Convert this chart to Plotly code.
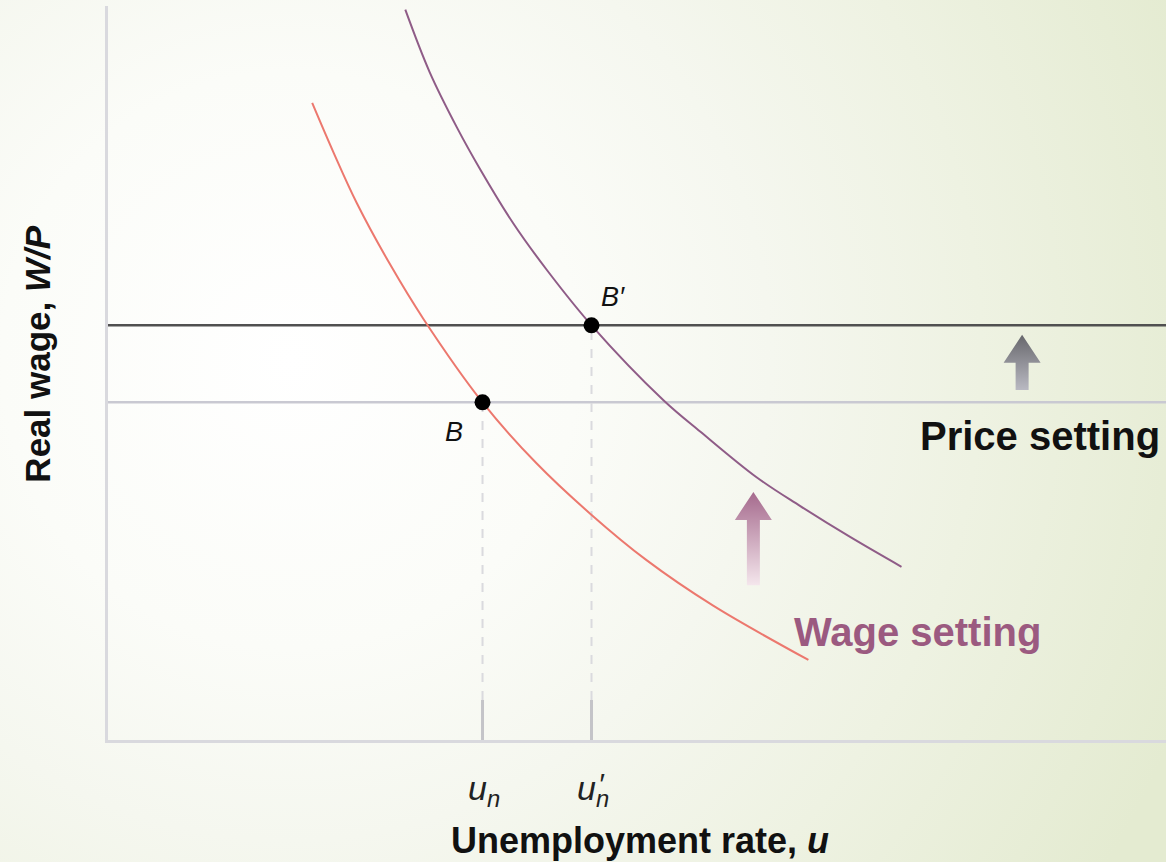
import base64
import plotly.graph_objects as go

# Wage-setting curve before the shift (unemployment rate, real wage)
ws_u = [1.93, 2.13, 2.35, 2.67, 2.98, 3.54, 4.05, 4.56, 5.09, 5.72, 6.62]
ws_w = [8.68, 8.01, 7.32, 6.47, 5.74, 4.60, 3.77, 3.08, 2.45, 1.83, 1.09]

# Wage-setting curve after the shift
ws2_u = [2.81, 3.04, 3.30, 3.52, 3.83, 4.15, 4.57, 5.25, 5.60, 6.13, 6.54, 7.01, 7.50]
ws2_w = [9.95, 9.10, 8.34, 7.77, 7.04, 6.40, 5.65, 4.63, 4.20, 3.58, 3.19, 2.77, 2.36]

# Price-setting real wage, old and new
ps_old = 4.60
ps_new = 5.65

# Equilibria
eq_names = ["B", "B′"]
eq_u = [3.54, 4.57]
eq_w = [4.60, 5.65]

X_RANGE = [0, 10]
Y_RANGE = [0, 10]
W, H = 1166, 862
ML, MR, MT, MB = 108, 0, 6, 122
PX_X = (W - ML - MR) / (X_RANGE[1] - X_RANGE[0])
PX_Y = (H - MT - MB) / (Y_RANGE[1] - Y_RANGE[0])

FONT = "Liberation Sans, Arial, Helvetica, sans-serif"
RED = "#ec786e"
PURPLE = "#8f5c87"
WAGE_TXT = "#9b5a80"

fig = go.Figure()

# Soft radial background
svg = (
    f"<svg xmlns='http://www.w3.org/2000/svg' width='{W}' height='{H}'>"
    "<defs><radialGradient id='g' cx='290' cy='360' r='960' gradientUnits='userSpaceOnUse'>"
    "<stop offset='0' stop-color='#ffffff'/>"
    "<stop offset='0.3' stop-color='#fbfcf8'/>"
    "<stop offset='0.5' stop-color='#f5f7ef'/>"
    "<stop offset='0.72' stop-color='#eef2e2'/>"
    "<stop offset='1' stop-color='#e4ebd1'/>"
    "</radialGradient></defs>"
    f"<rect width='{W}' height='{H}' fill='url(#g)'/></svg>"
)
bg_src = "data:image/svg+xml;base64," + base64.b64encode(svg.encode()).decode()
pw, ph = W - ML - MR, H - MT - MB
fig.add_layout_image(
    source=bg_src, xref="paper", yref="paper",
    x=-ML / pw, y=1 + MT / ph, sizex=W / pw, sizey=H / ph,
    xanchor="left", yanchor="top", sizing="stretch", layer="below",
)

# Price-setting lines
for level, col in [(ps_old, "#c9c9d2"), (ps_new, "#505050")]:
    fig.add_shape(type="line", xref="paper", x0=0, x1=1, y0=level, y1=level,
                  line=dict(color=col, width=2.5), layer="below")

# Dashed guides from equilibria to the axis, with solid ticks at the base
tick_h = 40 / PX_Y
for u, w in zip(eq_u, eq_w):
    fig.add_shape(type="line", x0=u, x1=u, y0=tick_h, y1=w,
                  line=dict(color="#dadade", width=2, dash="dash"), layer="below")
    fig.add_shape(type="line", x0=u, x1=u, y0=0, y1=tick_h,
                  line=dict(color="#c4c4c8", width=3), layer="below")

# Wage-setting curves
fig.add_trace(go.Scatter(x=ws_u, y=ws_w, mode="lines",
                         line=dict(color=RED, width=2, shape="spline", smoothing=1.0),
                         hoverinfo="skip"))
fig.add_trace(go.Scatter(x=ws2_u, y=ws2_w, mode="lines",
                         line=dict(color=PURPLE, width=2, shape="spline", smoothing=1.0),
                         hoverinfo="skip"))


def arrow(u, w_tip, w_base, top_col, bottom_col):
    """Upward block arrow with a vertical colour fade."""
    head_len = 28 / PX_Y
    head_hw = 18.5 / PX_X
    shaft_hw = 6.5 / PX_X
    hb = w_tip - head_len
    xs = [u, u + head_hw, u + shaft_hw, u + shaft_hw, u - shaft_hw, u - shaft_hw, u - head_hw, u]
    ys = [w_tip, hb, hb, w_base, w_base, hb, hb, w_tip]
    fig.add_trace(go.Scatter(
        x=xs, y=ys, mode="lines", line=dict(width=0), fill="toself",
        fillgradient=dict(type="vertical", colorscale=[[0, bottom_col], [1, top_col]]),
        hoverinfo="skip"))


# Shift arrows
arrow(6.10, 3.38, 2.11, "#a56a8d", "#f4e6ec")
arrow(8.64, 5.52, 4.77, "#67676c", "#b9b9c2")

# Equilibrium points
fig.add_trace(go.Scatter(x=eq_u, y=eq_w, mode="markers",
                         marker=dict(color="black", size=16), hoverinfo="skip"))

ann = []
for name, u, w, dx, dy in zip(eq_names, eq_u, eq_w, [-29, 21], [-30, 28]):
    ann.append(dict(x=u, y=w, text=f"<i>{name}</i>", showarrow=False, xshift=dx, yshift=dy,
                    font=dict(size=27, color="#111111", family=FONT)))

# u_n labels under the axis
for u in eq_u:
    ann.append(dict(x=u, y=0, text="<i>u</i><sub><i>n</i></sub>", showarrow=False,
                    yanchor="middle", yshift=-50, xshift=1,
                    font=dict(size=34, color="#222222", family=FONT)))
ann.append(dict(x=eq_u[1], y=0, text="<i>′</i>", showarrow=False,
                yanchor="middle", yshift=-43, xshift=10, font=dict(size=30, color="#222222", family=FONT)))

ann.append(dict(x=1, xref="paper", y=ps_old, text="<b>Price setting</b>", showarrow=False,
                xanchor="right", yanchor="middle", xshift=-4, yshift=-34,
                font=dict(size=40, color="#111111", family=FONT)))
ann.append(dict(x=(792 - ML) / PX_X, y=1.47, text="<b>Wage setting</b>", showarrow=False,
                xanchor="left", yanchor="middle",
                font=dict(size=40, color=WAGE_TXT, family=FONT)))

ann.append(dict(x=5.03, y=0, text="<b>Unemployment rate, <i>u</i></b>", showarrow=False,
                yanchor="middle", yshift=-100, font=dict(size=36, color="#111111", family=FONT)))
ann.append(dict(x=(38 - ML) / pw, xref="paper", y=5.25, text="<b>Real wage, <i>W/P</i></b>",
                textangle=-90, showarrow=False, xanchor="center", yanchor="middle",
                font=dict(size=35, color="#111111", family=FONT)))

fig.update_layout(
    width=W, height=H, margin=dict(l=ML, r=MR, t=MT, b=MB),
    paper_bgcolor="rgba(0,0,0,0)", plot_bgcolor="rgba(0,0,0,0)",
    showlegend=False, annotations=ann,
    xaxis=dict(range=X_RANGE, showgrid=False, zeroline=False, showticklabels=False, ticks="",
               showline=True, linecolor="#d9d9de", linewidth=2.5),
    yaxis=dict(range=Y_RANGE, showgrid=False, zeroline=False, showticklabels=False, ticks="",
               showline=True, linecolor="#d9d9de", linewidth=2.5),
)

fig.write_html("out.html")
